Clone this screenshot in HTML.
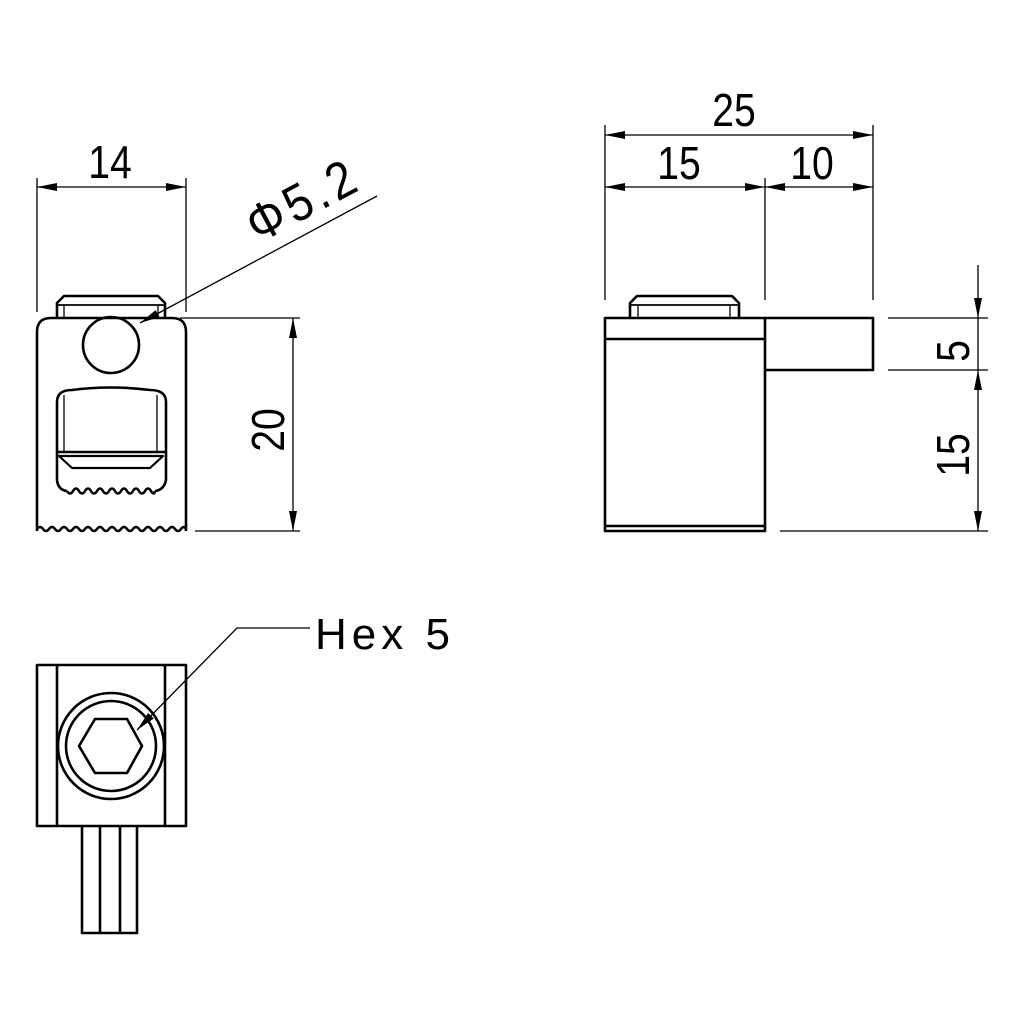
<!DOCTYPE html>
<html><head><meta charset="utf-8"><style>
html,body{margin:0;padding:0;background:#fff}
svg{display:block}
text{font-family:"Liberation Sans",sans-serif;fill:#000}
</style></head><body>
<svg width="1024" height="1024" viewBox="0 0 1024 1024" xmlns="http://www.w3.org/2000/svg">
<defs>
<marker id="a" viewBox="0 0 20 8" refX="20" refY="4" markerWidth="20" markerHeight="8" markerUnits="userSpaceOnUse" orient="auto-start-reverse"><path d="M0,0 L20,4 L0,8 Z" fill="#000"/></marker>
</defs>
<g fill="none" stroke="#000" stroke-width="1.3">
<line x1="37" y1="178" x2="37" y2="312"/>
<line x1="186" y1="178" x2="186" y2="312"/>
<line x1="37" y1="187" x2="186" y2="187" marker-start="url(#a)" marker-end="url(#a)"/>
<line x1="180" y1="318" x2="300" y2="318"/>
<line x1="195" y1="531" x2="300" y2="531"/>
<line x1="293" y1="318" x2="293" y2="531" marker-start="url(#a)" marker-end="url(#a)"/>
<line x1="377" y1="196" x2="140" y2="323" marker-end="url(#a)"/>
<line x1="605" y1="125" x2="605" y2="300"/>
<line x1="765" y1="178" x2="765" y2="300"/>
<line x1="873" y1="125" x2="873" y2="300"/>
<line x1="605" y1="135" x2="873" y2="135" marker-start="url(#a)" marker-end="url(#a)"/>
<line x1="605" y1="187" x2="765" y2="187" marker-start="url(#a)" marker-end="url(#a)"/>
<line x1="765" y1="187" x2="873" y2="187" marker-start="url(#a)" marker-end="url(#a)"/>
<line x1="888" y1="318" x2="988" y2="318"/>
<line x1="888" y1="370" x2="988" y2="370"/>
<line x1="780" y1="531" x2="988" y2="531"/>
<line x1="978" y1="265" x2="978" y2="318" marker-end="url(#a)"/>
<line x1="978" y1="318" x2="978" y2="370"/>
<line x1="978" y1="370" x2="978" y2="531" marker-start="url(#a)" marker-end="url(#a)"/>
<polyline points="310,628 237,628 137,730" marker-end="url(#a)"/>
</g>
<g fill="none" stroke="#000" stroke-width="2.6" stroke-linejoin="round">
<path d="M57,318 V303 L64,296 H158 L165,303 V318"/>
<line x1="57" y1="305" x2="165" y2="305" stroke-width="1.8"/>
<line x1="64" y1="305" x2="64" y2="318" stroke-width="1.3"/>
<line x1="158" y1="305" x2="158" y2="318" stroke-width="1.3"/>
<path d="M37,531 V332 Q37,318 51,318 H172 Q186,318 186,332 V531"/>
<path d="M37,529 q3,-4 6,0 t6,0 t6,0 t6,0 t6,0 t6,0 t6,0 t6,0 t6,0 t6,0 t6,0 t6,0 t6,0 t6,0 t6,0 t6,0 t6,0 t6,0 t6,0 t6,0 t6,0 t6,0 t6,0 t6,0 t5,0"/>
<circle cx="111" cy="345" r="28"/>
<path d="M57,480 V402 Q57,390 72,390 Q111,385 150,390 Q166,390 166,402 V480 Q164,490 155,491"/>
<path d="M57,480 Q58,490 67,491"/>
<path d="M67,491 q3,5 6,0 t6,0 t6,0 t6,0 t6,0 t6,0 t6,0 t6,0 t6,0 t6,0 t6,0 t6,0 t6,0 t6,0 t4,0"/>
<line x1="64" y1="395" x2="64" y2="452" stroke-width="1.3"/>
<line x1="157" y1="395" x2="157" y2="452" stroke-width="1.3"/>
<line x1="57" y1="452" x2="166" y2="452"/>
<path d="M59,456 L72,468 H150 L163,456 Z" stroke-width="2.2"/>
<path d="M630,318 V303 L637,296 H732 L739,303 V318"/>
<line x1="630" y1="305" x2="739" y2="305" stroke-width="1.8"/>
<line x1="638" y1="305" x2="638" y2="318" stroke-width="1.3"/>
<line x1="730" y1="305" x2="730" y2="318" stroke-width="1.3"/>
<rect x="605" y="318" width="160" height="213"/>
<line x1="605" y1="339" x2="765" y2="339"/>
<line x1="605" y1="526" x2="765" y2="526"/>
<path d="M765,318 H873 V370 H765"/>
<rect x="37" y="665" width="149" height="161"/>
<line x1="57" y1="665" x2="57" y2="826"/>
<line x1="165" y1="665" x2="165" y2="826"/>
<circle cx="111" cy="746" r="53"/>
<circle cx="111" cy="746" r="45"/>
<polygon points="79,746 95,719 127,719 142,746 127,773 95,773"/>
<path d="M82,826 V933 H137 V826"/>
<line x1="100" y1="826" x2="100" y2="933"/>
<line x1="120" y1="826" x2="120" y2="933"/>
</g>
<g font-size="46">
<text x="110" y="178" text-anchor="middle" transform="translate(110 0) scale(0.85 1) translate(-110 0)">14</text>
<text x="734" y="126" text-anchor="middle" transform="translate(734 0) scale(0.85 1) translate(-734 0)">25</text>
<text x="679" y="179" text-anchor="middle" transform="translate(679 0) scale(0.85 1) translate(-679 0)">15</text>
<text x="812" y="179" text-anchor="middle" transform="translate(812 0) scale(0.85 1) translate(-812 0)">10</text>
<text transform="translate(284 430) rotate(-90) scale(0.85 1)" text-anchor="middle">20</text>
<text transform="translate(969 351) rotate(-90) scale(0.85 1)" text-anchor="middle">5</text>
<text transform="translate(969 455) rotate(-90) scale(0.85 1)" text-anchor="middle">15</text>
<text transform="translate(258 244) rotate(-28) scale(0.9 1)" font-size="52" letter-spacing="5">Φ5.2</text>
<text x="315" y="649" font-size="44" letter-spacing="5">Hex 5</text>
</g>
</svg>
</body></html>
